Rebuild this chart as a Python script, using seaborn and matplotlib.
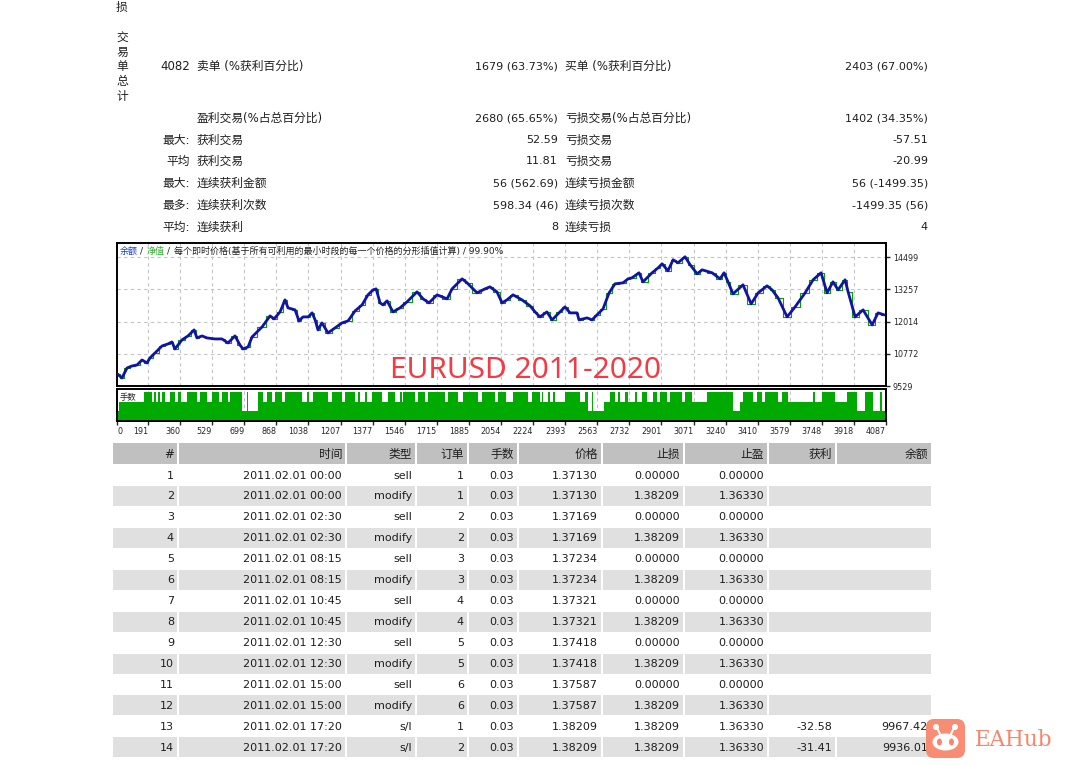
import matplotlib
matplotlib.use("Agg")
import matplotlib.pyplot as plt
from matplotlib.patches import Rectangle, FancyBboxPatch, Ellipse, Circle
import pandas as pd
import seaborn as sns

# balance curve: trade number -> balance
bal_trade = [30, 53, 80, 106, 133, 159, 185, 201, 228, 265, 296, 317, 333, 370, 402, 434,
             449, 476, 502, 544, 581, 613, 650, 676, 692, 719, 740, 793, 835, 856, 888, 914,
             930, 967, 988, 1009, 1036, 1057, 1073, 1088, 1109, 1141, 1178, 1215, 1247, 1284,
             1321, 1352, 1379, 1395, 1416, 1431, 1453, 1484, 1521, 1558, 1611, 1643, 1674,
             1717, 1770, 1796, 1849, 1875, 1928, 1970, 1996, 2033, 2060, 2086, 2118, 2165,
             2208, 2234, 2260, 2297, 2324, 2366, 2392, 2419, 2456, 2466, 2509, 2535, 2561,
             2593, 2625, 2656, 2699, 2725, 2746, 2783, 2804, 2852, 2884, 2905, 2936, 2963,
             2989, 3026, 3053, 3090, 3116, 3169, 3211, 3232, 3253, 3279, 3332, 3375, 3412,
             3459, 3485, 3517, 3565, 3607, 3660, 3702, 3744, 3776, 3807, 3834, 3871, 3887,
             3924, 3966, 4014, 4045, 4078]
bal_value = [9990, 9838, 10224, 10301, 10340, 10533, 10417, 10610, 10803, 11073, 11150, 11227,
             10957, 11305, 11459, 11691, 11382, 11459, 11382, 11343, 11343, 11189, 11459, 11112,
             10957, 11034, 11420, 11806, 12231, 12115, 12385, 12849, 12540, 12463, 12038, 12192,
             12192, 12347, 12077, 11691, 11961, 11575, 11768, 11961, 12038, 12424, 12656, 13042,
             13235, 13273, 12733, 12656, 12810, 12385, 12540, 12771, 13157, 12887, 12733, 13042,
             12887, 13273, 13659, 13505, 13119, 13273, 13350, 13157, 12733, 12849, 13042, 12849,
             12617, 12385, 12192, 12385, 12077, 12385, 12578, 12347, 12347, 12077, 12154, 12077,
             12270, 12501, 13119, 13466, 13505, 13659, 13698, 13891, 13543, 13891, 14084, 14238,
             13968, 14393, 14277, 14509, 14200, 13852, 14007, 13891, 13659, 13891, 13543, 13080,
             13428, 12694, 13119, 13389, 13235, 12926, 12192, 12578, 13119, 13621, 13891, 13119,
             13543, 13235, 13621, 13157, 12192, 12463, 11884, 12347, 12270]

# lot size runs (trade number where the run starts, lots)
lot_start = [27, 40, 171, 210, 224, 234, 245, 252, 266, 280, 306, 333, 350, 364, 394, 447,
             465, 500, 526, 565, 579, 614, 623, 685, 711, 720, 773, 799, 817, 843, 861, 896,
             914, 1002, 1028, 1040, 1063, 1142, 1160, 1213, 1230, 1283, 1301, 1311, 1336, 1347,
             1371, 1424, 1459, 1494, 1521, 1530, 1538, 1600, 1618, 1653, 1670, 1758, 1776, 1829,
             1855, 1934, 1952, 2022, 2040, 2081, 2119, 2199, 2216, 2260, 2269, 2278, 2304, 2313,
             2331, 2339, 2392, 2471, 2498, 2515, 2533, 2542, 2600, 2630, 2656, 2674, 2683, 2709,
             2727, 2762, 2771, 2797, 2823, 2859, 2876, 2894, 2929, 2947, 3008, 3026, 3061, 3140,
             3281, 3316, 3334, 3387, 3404, 3431, 3448, 3519, 3536, 3571, 3703, 3712, 3747, 3818,
             3879, 3932, 3976, 4020, 4055, 4064]
lot_size = [0.03, 0.06, 0.09, 0.06, 0.09, 0.06, 0.09, 0.06, 0.09, 0.06, 0.09, 0.06, 0.09, 0.06,
            0.09, 0.06, 0.09, 0.06, 0.09, 0.06, 0.09, 0.06, 0.09, 0.03, 0.09, 0.03, 0.09, 0.06,
            0.09, 0.06, 0.09, 0.06, 0.09, 0.06, 0.09, 0.06, 0.09, 0.06, 0.09, 0.06, 0.09, 0.06,
            0.09, 0.06, 0.09, 0.06, 0.09, 0.06, 0.09, 0.06, 0.09, 0.06, 0.09, 0.06, 0.09, 0.06,
            0.09, 0.06, 0.09, 0.06, 0.09, 0.06, 0.09, 0.06, 0.09, 0.06, 0.09, 0.06, 0.09, 0.06,
            0.09, 0.06, 0.09, 0.06, 0.09, 0.06, 0.09, 0.06, 0.09, 0.03, 0.09, 0.03, 0.06, 0.09,
            0.06, 0.09, 0.06, 0.09, 0.06, 0.09, 0.06, 0.09, 0.06, 0.09, 0.06, 0.09, 0.06, 0.09,
            0.06, 0.09, 0.06, 0.09, 0.03, 0.06, 0.09, 0.06, 0.09, 0.06, 0.09, 0.06, 0.09, 0.06,
            0.09, 0.06, 0.09, 0.06, 0.09, 0.03, 0.09, 0.03, 0.09, 0.03]

x_ticks = [191, 360, 529, 699, 868, 1038, 1207, 1377, 1546, 1715, 1885, 2054, 2224, 2393,
           2563, 2732, 2901, 3071, 3240, 3410, 3579, 3748, 3918, 4087]
y_ticks = [9529, 10772, 12014, 13257, 14499]

# summary block
stat_prefix = ["4082", "", "最大:", "平均", "最大:", "最多:", "平均:"]
stat_left_label = ["卖单 (%获利百分比)", "盈利交易(%占总百分比)", "获利交易", "获利交易",
                   "连续获利金额", "连续获利次数", "连续获利"]
stat_left_value = ["1679 (63.73%)", "2680 (65.65%)", "52.59", "11.81", "56 (562.69)",
                   "598.34 (46)", "8"]
stat_right_label = ["买单 (%获利百分比)", "亏损交易(%占总百分比)", "亏损交易", "亏损交易",
                    "连续亏损金额", "连续亏损次数", "连续亏损"]
stat_right_value = ["2403 (67.00%)", "1402 (34.35%)", "-57.51", "-20.99", "56 (-1499.35)",
                    "-1499.35 (56)", "4"]

# order table
headers = ["#", "时间", "类型", "订单", "手数", "价格", "止损", "止盈", "获利", "余额"]
row_no = [1, 2, 3, 4, 5, 6, 7, 8, 9, 10, 11, 12, 13, 14]
times = ["2011.02.01 00:00", "2011.02.01 00:00", "2011.02.01 02:30", "2011.02.01 02:30",
         "2011.02.01 08:15", "2011.02.01 08:15", "2011.02.01 10:45", "2011.02.01 10:45",
         "2011.02.01 12:30", "2011.02.01 12:30", "2011.02.01 15:00", "2011.02.01 15:00",
         "2011.02.01 17:20", "2011.02.01 17:20"]
types = ["sell", "modify", "sell", "modify", "sell", "modify", "sell", "modify",
         "sell", "modify", "sell", "modify", "s/l", "s/l"]
orders = [1, 1, 2, 2, 3, 3, 4, 4, 5, 5, 6, 6, 1, 2]
lots = [0.03] * 14
prices = [1.37130, 1.37130, 1.37169, 1.37169, 1.37234, 1.37234, 1.37321, 1.37321,
          1.37418, 1.37418, 1.37587, 1.37587, 1.38209, 1.38209]
stop_loss = [0.0, 1.38209, 0.0, 1.38209, 0.0, 1.38209, 0.0, 1.38209, 0.0, 1.38209,
             0.0, 1.38209, 1.38209, 1.38209]
take_profit = [0.0, 1.36330, 0.0, 1.36330, 0.0, 1.36330, 0.0, 1.36330, 0.0, 1.36330,
               0.0, 1.36330, 1.36330, 1.36330]
profits = [None] * 12 + [-32.58, -31.41]
balances = [None] * 12 + [9967.42, 9936.01]

sns.set_style("white")
plt.rcParams["font.family"] = ["DejaVu Sans", "Noto Sans CJK SC"]

W, H = 1065, 765
fig = plt.figure(figsize=(W / 100, H / 100), dpi=100)


def box(l, t, r, b):
    return [l / W, 1 - b / H, (r - l) / W, (b - t) / H]


ax = fig.add_axes(box(117, 243, 886, 386))
ax_lot = fig.add_axes(box(117, 389, 886, 421))
page = fig.add_axes([0, 0, 1, 1], zorder=10)
page.set_xlim(0, W)
page.set_ylim(H, 0)
page.axis("off")

grid_kw = dict(color="#c4c4c4", ls=(0, (3, 3)), lw=0.8)

# balance / equity graph
df = pd.DataFrame({"trade": bal_trade, "balance": bal_value})
sns.lineplot(data=df, x="trade", y="balance", ax=ax, color="#00a000", lw=0.8,
             drawstyle="steps-mid", zorder=2)
sns.lineplot(data=df, x="trade", y="balance", ax=ax, color="#1212a6", lw=2.0, zorder=3)
ax.set_xlim(27, 4087)
ax.set_ylim(9529, 15040)
ax.set_xticks(x_ticks)
ax.set_xticklabels([])
ax.yaxis.tick_right()
ax.set_yticks(y_ticks)
ax.set_yticklabels([str(v) for v in y_ticks], fontsize=5.8)
ax.tick_params(axis="y", direction="out", length=3, width=1, pad=2, right=True, left=False)
ax.tick_params(axis="x", length=0)
ax.grid(True, **grid_kw)
ax.set_axisbelow(True)
ax.set_xlabel("")
ax.set_ylabel("")

# lots panel
lx = lot_start + [4080]
ly = lot_size + [lot_size[-1]]
ax_lot.fill_between(lx, ly, step="post", color="#00aa00", lw=0, zorder=2)
ax_lot.set_xlim(27, 4087)
ax_lot.set_ylim(0, 0.1)
ax_lot.set_xticks([27] + x_ticks)
labs = ax_lot.set_xticklabels(["0"] + [str(t) for t in x_ticks], fontsize=5.8)
for lab in labs:
    lab.set_ha("right")
labs[0].set_ha("left")
ax_lot.set_yticks([])
ax_lot.tick_params(axis="x", direction="out", length=3, width=1, pad=1.5, bottom=True)
ax_lot.grid(True, axis="x", **grid_kw)
ax_lot.set_axisbelow(True)
ax_lot.text(0.004, 0.88, "手数", transform=ax_lot.transAxes, fontsize=6, va="top",
            bbox=dict(fc="white", ec="none", pad=0.3), zorder=5)

for a in (ax, ax_lot):
    for s in a.spines.values():
        s.set_linewidth(1.4)
        s.set_color("black")

# graph caption
page.text(120, 251, "余额", color="#2040c0", fontsize=6.5, va="center")
page.text(140, 251, "/", color="#222222", fontsize=6.5, va="center")
page.text(147, 251, "净值", color="#30b030", fontsize=6.5, va="center")
page.text(167, 251, "/", color="#222222", fontsize=6.5, va="center")
page.text(174, 251, "每个即时价格(基于所有可利用的最小时段的每一个价格的分形插值计算) / 99.90%",
          color="#222222", fontsize=6.5, va="center")
page.text(526, 378, "EURUSD 2011-2020", color="#f23b44", fontsize=21.5, ha="center",
          va="baseline", family=["Noto Sans", "DejaVu Sans"])

# summary block
tc = "#1e1e1e"
for ch, yy in zip("损交易单总计", [7, 38, 52, 66, 81, 96]):
    page.text(122, yy, ch, fontsize=8.5, ha="center", va="center", color=tc)
stat_y = [66, 118, 140, 161, 183, 205, 227]
for i, yy in enumerate(stat_y):
    page.text(190, yy, stat_prefix[i], fontsize=8.5, ha="right", va="center", color=tc)
    page.text(197, yy, stat_left_label[i], fontsize=8.5, ha="left", va="center", color=tc)
    page.text(558, yy, stat_left_value[i], fontsize=8, ha="right", va="center", color=tc)
    page.text(565, yy, stat_right_label[i], fontsize=8.5, ha="left", va="center", color=tc)
    page.text(928, yy, stat_right_value[i], fontsize=8, ha="right", va="center", color=tc)

# order table
col_left = [113, 179, 347, 417, 469, 519, 603, 685, 769, 837]
col_right = [177, 345, 415, 467, 517, 601, 683, 767, 835, 931]
for l, r, h in zip(col_left, col_right, headers):
    page.add_patch(Rectangle((l, 443), r - l, 21, color="#c0c0c0", lw=0))
    page.text(r - 3, 454, h, fontsize=8.5, ha="right", va="center", color=tc)

for i in range(len(row_no)):
    yc = 475 + 20.95 * i
    cells = [str(row_no[i]), times[i], types[i], str(orders[i]), f"{lots[i]:.2f}",
             f"{prices[i]:.5f}", f"{stop_loss[i]:.5f}", f"{take_profit[i]:.5f}",
             "" if profits[i] is None else f"{profits[i]:.2f}",
             "" if balances[i] is None else f"{balances[i]:.2f}"]
    if i % 2 == 1:
        n = 10 if profits[i] is not None else 8
        for l, r in zip(col_left[:n], col_right[:n]):
            page.add_patch(Rectangle((l, yc - 10), r - l, 20, color="#e0e0e0", lw=0))
        if n == 8:
            page.add_patch(Rectangle((769, yc - 10), 931 - 769, 20, color="#e0e0e0", lw=0))
    for r, txt in zip(col_right, cells):
        page.text(r - 3, yc + 0.5, txt, fontsize=8, ha="right", va="center", color=tc)

# EAHub watermark
page.add_patch(FancyBboxPatch((926, 719), 39, 39, boxstyle="round,pad=0,rounding_size=8",
                              fc="#f8876d", ec="none", alpha=0.95, zorder=20))
page.add_patch(Ellipse((945.5, 742), 26, 17, fc="white", ec="none", zorder=21))
page.add_patch(Ellipse((939.5, 742), 5, 7, fc="#f8876d", ec="none", zorder=22))
page.add_patch(Ellipse((951.5, 742), 5, 7, fc="#f8876d", ec="none", zorder=22))
page.add_patch(Circle((936, 727), 3, fc="white", ec="none", zorder=21))
page.add_patch(Circle((955, 727), 3, fc="white", ec="none", zorder=21))
page.plot([937, 940], [728, 734], color="white", lw=1.5, zorder=21)
page.plot([954, 951], [728, 734], color="white", lw=1.5, zorder=21)
page.text(975, 740, "EAHub", color="#f7856b", fontsize=15.5, ha="left", va="center",
          family=["DejaVu Serif"], zorder=21)

fig.savefig("out.png", dpi=100)
